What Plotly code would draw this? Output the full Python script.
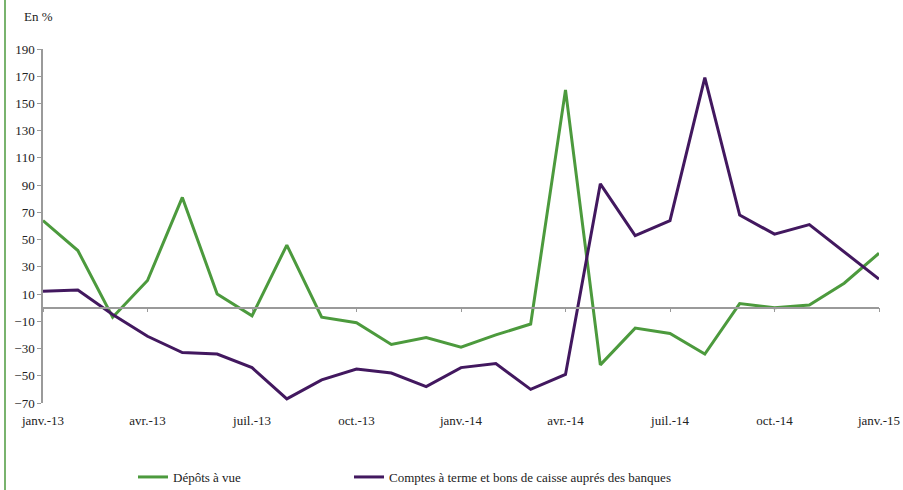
import plotly.graph_objects as go

months = ["janv.-13", "févr.-13", "mars-13", "avr.-13", "mai-13", "juin-13", "juil.-13",
          "août-13", "sept.-13", "oct.-13", "nov.-13", "déc.-13", "janv.-14", "févr.-14",
          "mars-14", "avr.-14", "mai-14", "juin-14", "juil.-14", "août-14", "sept.-14",
          "oct.-14", "nov.-14", "déc.-14", "janv.-15"]

depots_a_vue = [64, 42, -7, 20, 81, 10, -6, 46, -7, -11, -27, -22, -29, -20, -12,
                160, -42, -15, -19, -34, 3, 0, 2, 18, 40]

comptes_a_terme = [12, 13, -5, -21, -33, -34, -44, -67, -53, -45, -48, -58, -44, -41,
                   -60, -49, 91, 53, 64, 169, 68, 54, 61, 41, 21]

tick_labels = ["janv.-13", "avr.-13", "juil.-13", "oct.-13", "janv.-14", "avr.-14",
               "juil.-14", "oct.-14", "janv.-15"]

FONT = "Liberation Serif, Times New Roman, serif"
GREEN = "#4c9a3d"
PURPLE = "#42185f"
AXIS = "#9a9a9a"
TEXT = "#222222"

W, H = 903, 490
ML, MR, MT, MB = 43, 24, 49, 87
PW, PH = W - ML - MR, H - MT - MB

fig = go.Figure()
fig.add_trace(go.Scatter(x=months, y=depots_a_vue, mode="lines", name="Dépôts à vue",
                         line=dict(color=GREEN, width=3), legend="legend"))
fig.add_trace(go.Scatter(x=months, y=comptes_a_terme, mode="lines",
                         name="Comptes à terme et bons de caisse auprés des banques",
                         line=dict(color=PURPLE, width=3), legend="legend2"))

ymin, ymax = -70, 190

leg_common = dict(orientation="h", xref="container", yref="container",
                  y=13 / H, xanchor="left", yanchor="middle",
                  font=dict(family=FONT, size=13, color=TEXT),
                  itemwidth=30, bgcolor="rgba(0,0,0,0)")

fig.update_layout(
    width=W, height=H,
    margin=dict(l=ML, r=MR, t=MT, b=MB, autoexpand=False),
    paper_bgcolor="white", plot_bgcolor="white",
    font=dict(family=FONT, size=13, color=TEXT),
    showlegend=True,
    legend=dict(x=133 / W, **leg_common),
    legend2=dict(x=349 / W, **leg_common),
    xaxis=dict(type="category", categoryorder="array", categoryarray=months,
               range=[0, len(months) - 1], showline=False, showgrid=False,
               zeroline=False, tickmode="array", tickvals=tick_labels,
               ticktext=tick_labels, ticks="", ticklabelstandoff=8, automargin=False),
    xaxis2=dict(matches="x", overlaying="x", anchor="free",
                position=(0 - ymin) / (ymax - ymin), showline=True, linecolor=AXIS,
                linewidth=1.5, ticks="outside", ticklen=4, tickcolor=AXIS,
                tickvals=tick_labels, showticklabels=False, showgrid=False,
                zeroline=False, type="category", automargin=False),
    yaxis=dict(range=[ymin, ymax], dtick=20, tick0=-70, showgrid=False,
               zeroline=False, showline=True, linecolor=AXIS, linewidth=1.5,
               ticks="outside", ticklen=4, tickcolor=AXIS, automargin=False),
    annotations=[dict(text="En %", xref="paper", yref="paper",
                      x=(22 - ML) / PW, y=(H - 16 - MB) / PH,
                      xanchor="left", yanchor="middle", showarrow=False,
                      font=dict(family=FONT, size=13, color=TEXT))],
    shapes=[dict(type="line", xref="paper", yref="paper", x0=(5 - ML) / PW, x1=(5 - ML) / PW,
                 y0=-MB / PH, y1=(PH + MT) / PH, line=dict(color=GREEN, width=1.5))],
)

# invisible helper so xaxis2 is rendered
fig.add_trace(go.Scatter(x=months, y=[None] * len(months), xaxis="x2", showlegend=False,
                         hoverinfo="skip", mode="lines"))

fig.write_html("out.html", config={"displayModeBar": False},
               post_script="document.body.style.margin='0';")
